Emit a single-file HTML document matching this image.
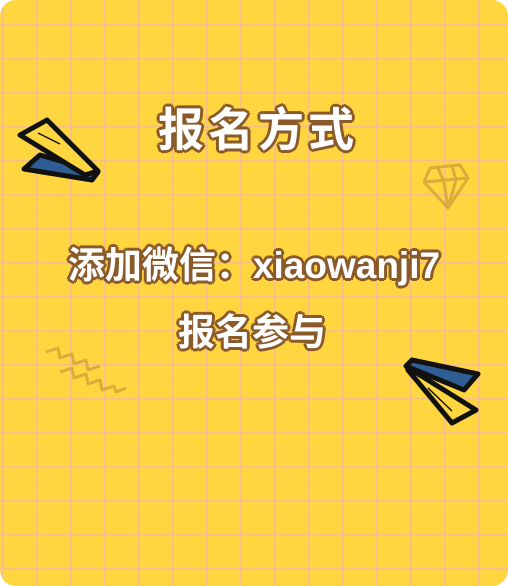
<!DOCTYPE html>
<html><head><meta charset="utf-8"><style>
html,body{margin:0;padding:0;background:#fff;}
#card{position:relative;width:508px;height:586px;border-radius:16px;overflow:hidden;
background-color:#FFD640;
background-image:linear-gradient(to right,#F7BE86 1.5px,transparent 1.5px),linear-gradient(to bottom,#F7BE86 1.5px,transparent 1.5px);
background-size:34px 34px;background-position:2px 24px;}
.t{position:absolute;left:0;width:508px;text-align:center;color:#fff;font-family:"Liberation Sans","WenQuanYi Zen Hei","Noto Sans CJK SC",sans-serif;font-weight:bold;white-space:nowrap;
text-shadow:2px 0 #8A5A2A,-2px 0 #8A5A2A,0 2px #8A5A2A,0 -2px #8A5A2A,2px 2px #8A5A2A,-2px -2px #8A5A2A,2px -2px #8A5A2A,-2px 2px #8A5A2A,3px 0 #8A5A2A,0 3px #8A5A2A,-3px 0 #8A5A2A,0 -3px #8A5A2A;}
svg{position:absolute;left:0;top:0}
</style></head><body>
<div id="card">
<svg width="508" height="586">
<g stroke="#111" stroke-width="5" stroke-linejoin="round">
<polygon points="24,169 40,155 98,172 92,180" fill="#2E5E93"/>
<polygon points="20,135 47,120 98,171 85,175" fill="#FFD640"/>
<line x1="38" y1="133" x2="60" y2="144" stroke-width="1.5"/>
</g>
<g stroke="#111" stroke-width="5" stroke-linejoin="round">
<polygon points="412,360 478,374 464,390 406,366" fill="#2E5E93"/>
<polygon points="407,367 476,410 452,423 408,370" fill="#FFD640"/>
<line x1="428" y1="388" x2="452" y2="411" stroke-width="1.5"/>
</g>
<g fill="none" stroke="#D8AE3A" stroke-width="3" stroke-linejoin="round">
<polygon points="430,168 460,165 468,178 448,208 424,182"/>
<polyline points="424,182 468,178"/>
<polyline points="438,168 444,182 448,208 456,180 452,166"/>
</g>
<g fill="none" stroke="#D8AE3A" stroke-width="3" stroke-linejoin="round">
<polyline points="46,352 58,348 60,358 72,354 74,364 86,360 88,370 100,366"/>
<polyline points="60,372 72,368 74,378 86,374 88,384 100,380 102,390 114,386 116,392 126,388"/>
</g>
</svg>
<div class="t" style="top:94px;font-size:46px;letter-spacing:4px;padding-left:4px">报名方式</div>
<div class="t" style="top:235px;font-size:37px;">添加微信：xiaowanji7</div>
<div class="t" style="top:302px;font-size:37px;left:-2px">报名参与</div>
</div>
</body></html>
